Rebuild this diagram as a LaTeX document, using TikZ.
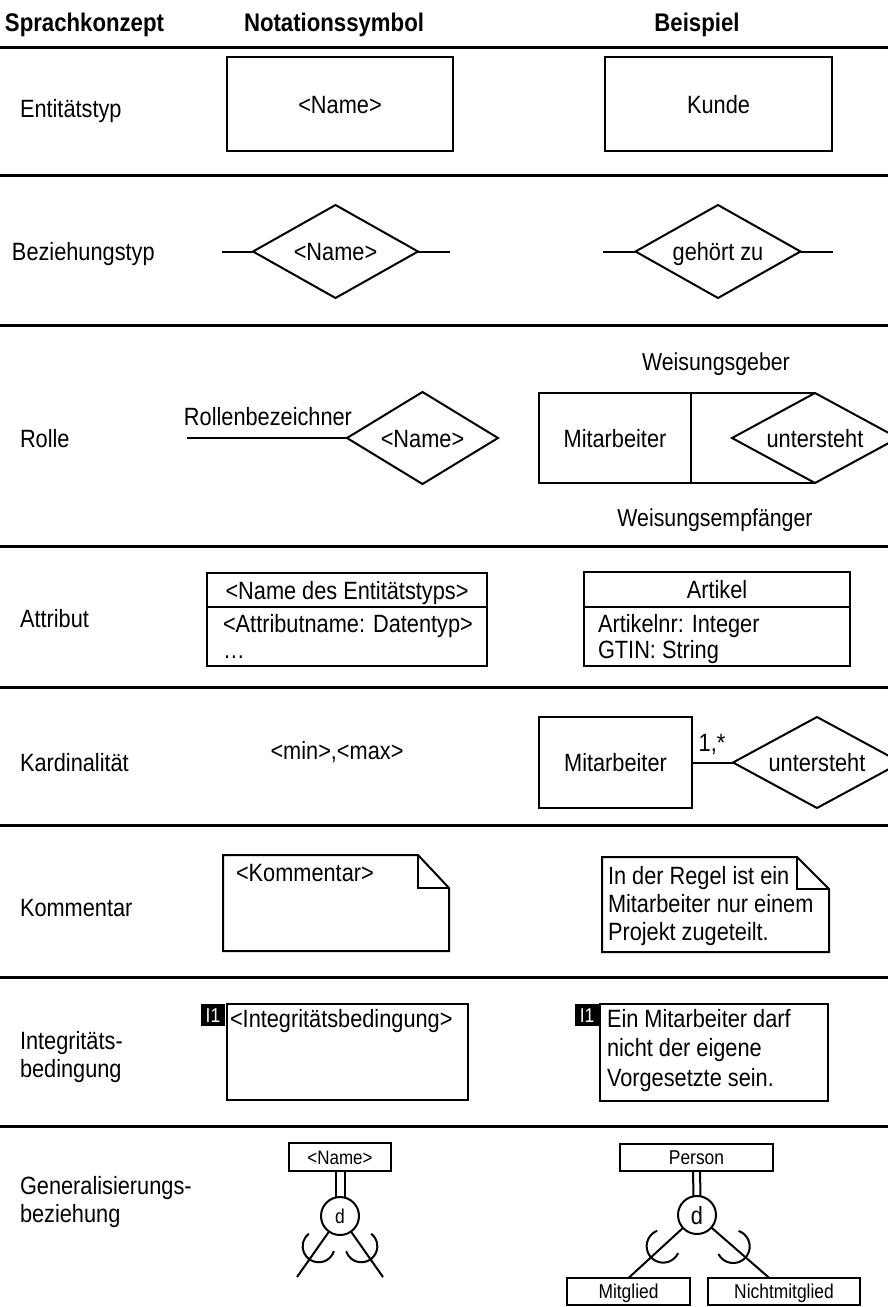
\documentclass[tikz,border=0pt]{standalone}
\usepackage{fontspec}
\setmainfont[FakeStretch=0.87]{Liberation Sans}
\usetikzlibrary{shapes.geometric,calc}
\newcommand\fsBody{\fontsize{25}{28}\selectfont}
\newcommand\fsHead{\fontsize{25.5}{28}\selectfont\bfseries}
\newcommand\fsRole{\fontsize{24.5}{28}\selectfont}
\newcommand\fsSmall{\fontsize{20}{24}\selectfont}
\newcommand\fsTiny{\fontsize{19.5}{22}\selectfont}

\begin{document}
\begin{tikzpicture}[x=1pt,y=-1pt,
  every node/.style={inner sep=0pt, outer sep=0pt, font=\fsBody, text height=18pt, text depth=0pt},
  ln/.style={line width=2pt},
  sepline/.style={line width=3pt},
  box/.style={draw, line width=2pt, rectangle},
  dia/.style={draw, line width=2pt, diamond, inner sep=0pt},
  hd/.style={font=\fsHead},
  txt/.style={anchor=base west},
  small/.style={font=\fsSmall, text height=14.3pt},
  tiny/.style={font=\fsTiny, text height=14pt},
  tag/.style={fill=black, text=white, small, minimum width=24, minimum height=22},
]
\useasboundingbox (0,0) rectangle (888,1307);

% column headings
\node[hd, anchor=base west] (hConcept) at (5,31) {Sprachkonzept};
\node[hd, anchor=base] (hSymbol) at (334,31) {Notationssymbol};
\node[hd, anchor=base] (hExample) at (697,31) {Beispiel};

% row separators
\draw[sepline] (0,47) -- (888,47);
\draw[sepline] (0,175) -- (888,175);
\draw[sepline] (0,325) -- (888,325);
\draw[sepline] (0,546) -- (888,546);
\draw[sepline] (0,687) -- (888,687);
\draw[sepline] (0,825) -- (888,825);
\draw[sepline] (0,977) -- (888,977);
\draw[sepline] (0,1126) -- (888,1126);

% row labels
\node[txt] (lEnt) at (20,117) {Entitätstyp};
\node[txt] (lRel) at (12,260) {Beziehungstyp};
\node[txt] (lRole) at (20,447) {Rolle};
\node[txt] (lAttr) at (20,627) {Attribut};
\node[txt] (lCard) at (20,771) {Kardinalität};
\node[txt] (lNote) at (20,916) {Kommentar};
\node[txt] (lCons1) at (20,1049) {Integritäts-};
\node[txt] (lCons2) at (20,1077) {bedingung};
\node[txt] (lGen1) at (20,1194) {Generalisierungs-};
\node[txt] (lGen2) at (20,1222) {beziehung};

% --- entity type
\node[box, minimum width=226, minimum height=94] (entName) at (340,104) {<Name>};
\node[box, minimum width=227, minimum height=94] (entKunde) at (718.5,104) {Kunde};

% --- relationship type
\node[dia, minimum width=165, minimum height=93, label=center:{<Name>}] (relName) at (335.5,251.5) {};
\coordinate (relNameL) at (222,251.5);
\coordinate (relNameR) at (450,251.5);
\draw[ln] (relNameL) -- (relName.west);
\draw[ln] (relName.east) -- (relNameR);

\node[dia, minimum width=165, minimum height=93, label=center:{gehört zu}] (relEx) at (718,251.5) {};
\coordinate (relExL) at (603,251.5);
\coordinate (relExR) at (833,251.5);
\draw[ln] (relExL) -- (relEx.west);
\draw[ln] (relEx.east) -- (relExR);

% --- role
\node[dia, minimum width=151, minimum height=92, label=center:{<Name>}] (roleDia) at (422.5,438) {};
\coordinate (roleEnd) at (187,438);
\draw[ln] (roleEnd) -- (roleDia.west);
\node (roleLbl) at (268,416) {Rollenbezeichner};

\node[box, minimum width=152, minimum height=90] (roleEnt) at (615,438) {Mitarbeiter};
\node[dia, minimum width=166, minimum height=90, label=center:{untersteht}] (roleRel) at (815,438) {};
\draw[ln] (roleEnt.north east) -- (roleRel.north);
\draw[ln] (roleEnt.south east) -- (roleRel.south);
\node[font=\fsRole, text height=17.5pt] (roleTop) at (716,362) {Weisungsgeber};
\node[font=\fsRole, text height=17.5pt] (roleBot) at (715,518) {Weisungsempfänger};

% --- attribute
\node[box, minimum width=280, minimum height=34] (attrHead) at (347,590) {<Name des Entitätstyps>};
\node[box, minimum width=280, minimum height=59, anchor=north] (attrBody) at (attrHead.south) {};
\node[txt] (attrL1) at (223,632) {<Attributname: Datentyp>};
\node[txt] (attrL2) at (223,658) {\dots};

\node[box, minimum width=266, minimum height=35] (artHead) at (717,589.5) {Artikel};
\node[box, minimum width=266, minimum height=59, anchor=north] (artBody) at (artHead.south) {};
\node[txt] (artL1) at (598,632) {Artikelnr: Integer};
\node[txt] (artL2) at (598,658) {GTIN: String};

% --- cardinality
\node (cardTpl) at (337,750) {<min>,<max>};
\node[box, minimum width=153, minimum height=91] (cardEnt) at (615.5,762.5) {Mitarbeiter};
\node[dia, minimum width=168, minimum height=91, label=center:{untersteht}] (cardRel) at (817,762.5) {};
\draw[ln] (cardEnt.east) -- (cardRel.west);
\node (cardVal) at (712,742) {1,*};

% --- comment (note with folded corner)
\coordinate (nA1) at (223,855);
\coordinate (nA2) at (418,855);
\coordinate (nA3) at (449,888);
\coordinate (nA4) at (449,951);
\coordinate (nA5) at (223,951);
\coordinate (nA6) at (418,888);
\draw[ln, line join=miter] (nA1) -- (nA2) -- (nA3) -- (nA4) -- (nA5) -- cycle;
\draw[ln] (nA2) -- (nA6) -- (nA3);
\node[txt] (noteTpl) at (236,881) {<Kommentar>};

\coordinate (nB1) at (602,857);
\coordinate (nB2) at (797,857);
\coordinate (nB3) at (829,889);
\coordinate (nB4) at (829,952);
\coordinate (nB5) at (602,952);
\coordinate (nB6) at (797,889);
\draw[ln, line join=miter] (nB1) -- (nB2) -- (nB3) -- (nB4) -- (nB5) -- cycle;
\draw[ln] (nB2) -- (nB6) -- (nB3);
\node[txt] (noteL1) at (608,884) {In der Regel ist ein};
\node[txt] (noteL2) at (608,912) {Mitarbeiter nur einem};
\node[txt] (noteL3) at (608,940) {Projekt zugeteilt.};

% --- integrity constraint
\node[box, minimum width=241, minimum height=96] (consTpl) at (347.5,1052) {};
\node[tag] (tagTpl) at (213,1015) {I1};
\node[txt] (consTplTxt) at (230,1027) {<Integritätsbedingung>};

\node[box, minimum width=228, minimum height=97] (consEx) at (714,1052.5) {};
\node[tag] (tagEx) at (587,1015) {I1};
\node[txt] (consL1) at (607,1027) {Ein Mitarbeiter darf};
\node[txt] (consL2) at (607,1056) {nicht der eigene};
\node[txt] (consL3) at (607,1086) {Vorgesetzte sein.};

% --- generalisation
\node[box, minimum width=102, minimum height=28, tiny] (genName) at (340,1157) {<Name>};
\node[draw, ln, circle, minimum size=38, small] (genC) at (340,1216) {d};
\draw[ln] ([xshift=-4.5pt]genName.south) -- ([xshift=-4.5pt]genC.north);
\draw[ln] ([xshift=4.5pt]genName.south) -- ([xshift=4.5pt]genC.north);
\coordinate (genL) at (297,1277);
\coordinate (genR) at (383,1277);
\draw[ln] (genC) -- (genL);
\draw[ln] (genC) -- (genR);
\coordinate (genLa) at ($(genC)!37pt!(genL)$);
\coordinate (genRa) at ($(genC)!37pt!(genR)$);
\draw[ln] (genLa) ++(18:16) arc[start angle=18, end angle=232, radius=16];
\draw[ln] (genRa) ++(-52:16) arc[start angle=-52, end angle=162, radius=16];

\node[box, minimum width=153, minimum height=27, small] (person) at (696.5,1157.5) {Person};
\node[draw, ln, circle, minimum size=38] (genC2) at (697,1215) {d};
\draw[ln] ([xshift=-3.5pt]person.south) -- ([xshift=-3.5pt]genC2.north);
\draw[ln] ([xshift=3.5pt]person.south) -- ([xshift=3.5pt]genC2.north);
\node[box, minimum width=123, minimum height=27, small] (member) at (628.5,1291.5) {Mitglied};
\node[box, minimum width=152, minimum height=27, small] (nonmember) at (784,1291.5) {Nichtmitglied};
\coordinate (nmTop) at (769.3,1278);
\draw[ln] (genC2) -- (member.north);
\draw[ln] (genC2) -- (nmTop);
\coordinate (genLb) at ($(genC2)!46pt!(member.north)$);
\coordinate (genRb) at ($(genC2)!48pt!(nmTop)$);
\draw[ln] (genLb) ++(25:16.5) arc[start angle=25, end angle=249, radius=16.5];
\draw[ln] (genRb) ++(-71:16.5) arc[start angle=-71, end angle=153, radius=16.5];
\end{tikzpicture}
\end{document}
